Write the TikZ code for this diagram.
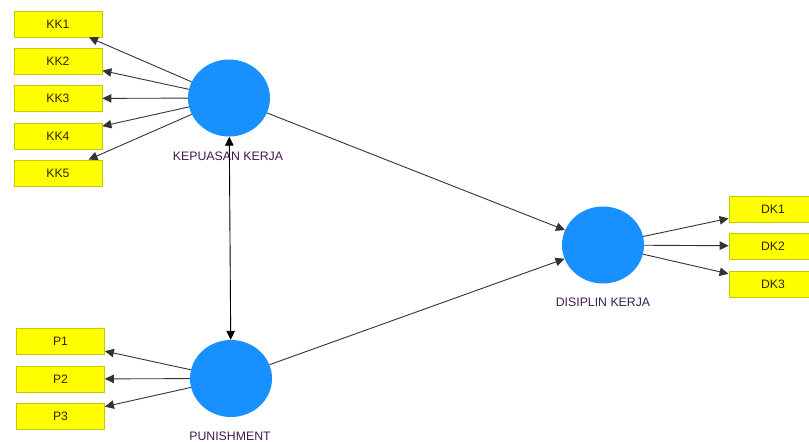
\documentclass[tikz,border=0pt]{standalone}
\usepackage{fontspec}
\setmainfont{Liberation Sans}
\usetikzlibrary{shapes.geometric,arrows.meta}
\definecolor{lvblue}{HTML}{1890FF}
\definecolor{boxyellow}{HTML}{FFFF00}
\definecolor{boxborder}{HTML}{C8C800}
\definecolor{labeltext}{HTML}{3C1E46}
\definecolor{boxtext}{HTML}{2E2400}
\definecolor{linegray}{HTML}{333333}
\tikzset{
  indbox/.style={draw=boxborder, fill=boxyellow, line width=0.8pt, minimum width=88pt, minimum height=26pt, inner sep=0pt, font=\fontsize{12.2}{13}\selectfont, text=boxtext},
  latent/.style={ellipse, fill=lvblue, draw=none, minimum width=82pt, minimum height=77pt, inner sep=0pt},
  lvlabel/.style={anchor=base, inner sep=0pt, font=\fontsize{12.3}{13}\selectfont, text=labeltext},
  conn/.style={draw=linegray, line width=0.9pt, -{Triangle[length=9pt,width=8.5pt]}},
  biconn/.style={draw=black, line width=0.9pt, {Triangle[length=9pt,width=8.5pt]}-{Triangle[length=9pt,width=8.5pt]}}
}
\begin{document}
\begin{tikzpicture}[x=1pt,y=-1pt]
\useasboundingbox (0,0) rectangle (809,442);
\fill[white] (0,0) rectangle (809,442);
% indicator boxes
\node[indbox] (kk1) at (58,24) {KK1};
\node[indbox] (kk2) at (58,61) {KK2};
\node[indbox] (kk3) at (58,98.5) {KK3};
\node[indbox] (kk4) at (58,136) {KK4};
\node[indbox] (kk5) at (58,173) {KK5};
\node[indbox] (p1) at (60.5,341.5) {P1};
\node[indbox] (p2) at (60.5,379) {P2};
\node[indbox] (p3) at (60.5,416.5) {P3};
\node[indbox] (dk1) at (773,209) {DK1};
\node[indbox] (dk2) at (773,246) {DK2};
\node[indbox] (dk3) at (773,284) {DK3};
% latent variables
\node[latent] (kk) at (229,98) {};
\node[latent] (dk) at (603,245) {};
\node[latent] (pn) at (231,378.5) {};
% labels
\node[lvlabel] (kklab) at (228,160) {KEPUASAN KERJA};
\node[lvlabel] (dklab) at (603,306.5) {DISIPLIN KERJA};
\node[lvlabel] (pnlab) at (230,440) {PUNISHMENT};
% connectors
\foreach \b in {kk1,kk2,kk3,kk4,kk5} \draw[conn] (kk) -- (\b);
\foreach \b in {p1,p2,p3} \draw[conn] (pn) -- (\b);
\foreach \b in {dk1,dk2,dk3} \draw[conn] (dk) -- (\b);
\draw[conn] (kk) -- (dk);
\draw[conn] (pn) -- (dk);
\draw[biconn] (kk) -- (pn);
\end{tikzpicture}
\end{document}
